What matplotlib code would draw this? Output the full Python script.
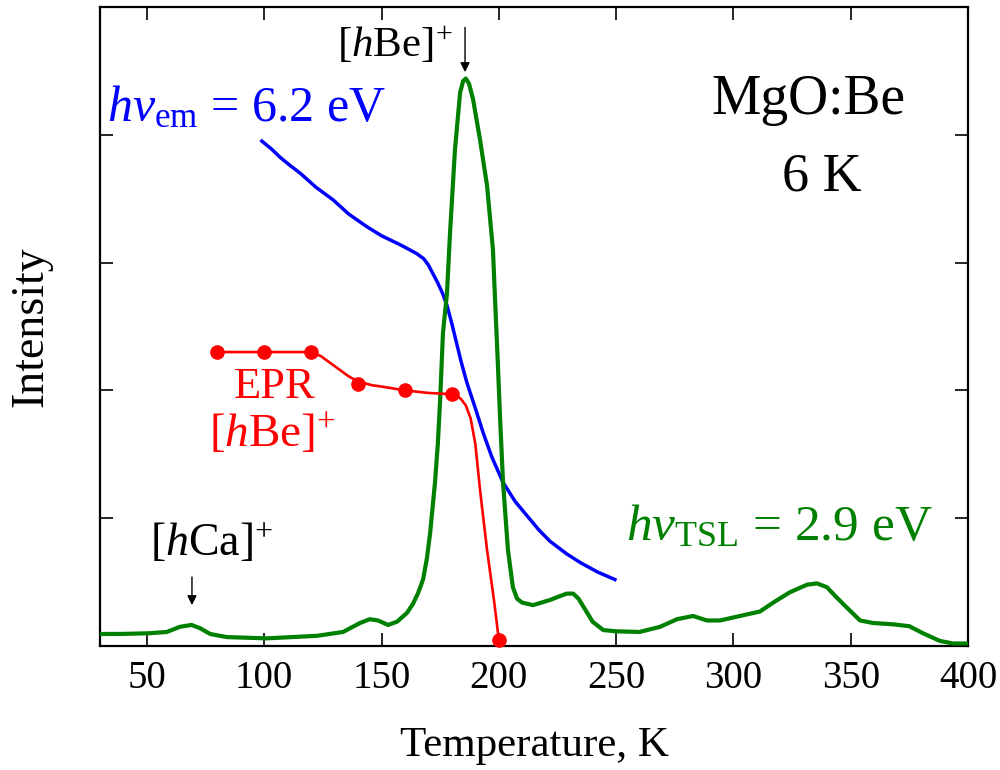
import matplotlib
matplotlib.use("Agg")
import matplotlib.pyplot as plt

plt.rcParams['font.family'] = ['Liberation Serif', 'DejaVu Serif']
plt.rcParams['mathtext.fontset'] = 'custom'
plt.rcParams['mathtext.rm'] = 'Liberation Serif'
plt.rcParams['mathtext.it'] = 'Liberation Serif:italic'
plt.rcParams['mathtext.bf'] = 'Liberation Serif:bold'

# ---- data ----
tsl_T = [30, 40, 51, 58.5, 64, 69, 72.6, 77, 84, 101, 122.5, 133.6, 140.8, 145, 148.5,
         152.8, 156.6, 160.9, 163.4, 165.5, 167.7, 169.3, 170.7, 172.8, 174, 175, 176.2,
         177.9, 179.2, 181.3, 183.5, 184.8, 185.9, 187.3, 189, 192, 195, 197.5, 198.4,
         199.5, 200.5, 201.8, 203.9, 206, 207.8, 209.9, 214.6, 221.8, 226, 229, 231.7,
         234, 236, 240, 244.5, 250, 260, 268.7, 276, 282.8, 288.7, 294.3, 302.8, 311.3,
         317, 324, 331.4, 335.6, 339.9, 344, 348.4, 354, 359.6, 368, 375, 380.8, 388,
         393.6, 400]
tsl_I = [0.094, 0.095, 0.10, 0.11, 0.15, 0.165, 0.14, 0.094, 0.07, 0.06, 0.08, 0.11, 0.18,
         0.21, 0.20, 0.165, 0.19, 0.26, 0.33, 0.41, 0.52, 0.68, 0.88, 1.28, 1.58, 1.93,
         2.45, 2.76, 3.23, 3.88, 4.33, 4.42, 4.44, 4.40, 4.28, 3.96, 3.60, 3.10, 2.71,
         2.25, 1.80, 1.28, 0.75, 0.46, 0.37, 0.34, 0.32, 0.36, 0.39, 0.41, 0.41, 0.37,
         0.31, 0.19, 0.125, 0.115, 0.11, 0.15, 0.21, 0.235, 0.20, 0.20, 0.235, 0.27,
         0.34, 0.42, 0.48, 0.49, 0.46, 0.38, 0.30, 0.20, 0.18, 0.17, 0.155, 0.10, 0.04,
         0.02, 0.02]

em_T = [99, 103, 107, 111, 115.3, 122, 129.4, 136, 143.8, 150, 157.9, 162, 165, 168, 170,
        172, 174, 176, 178, 180, 182, 184, 186.4, 190, 193.3, 197, 201.8, 207, 212, 217,
        221.8, 229, 235, 242, 249.5]
em_I = [3.95, 3.89, 3.82, 3.76, 3.70, 3.59, 3.49, 3.38, 3.28, 3.21, 3.14, 3.10, 3.07, 3.03,
        2.98, 2.91, 2.84, 2.76, 2.66, 2.52, 2.37, 2.22, 2.06, 1.86, 1.67, 1.48, 1.28, 1.13,
        1.02, 0.91, 0.82, 0.72, 0.65, 0.58, 0.52]

epr_T = [80, 100, 120, 140, 160, 180, 200]
epr_I = [2.30, 2.30, 2.30, 2.05, 2.00, 1.97, 0.05]

epr_line_T = [80, 100, 115, 118, 121, 124, 127, 130, 133, 136, 139, 142, 146, 150, 160,
              170, 180, 182, 184, 186, 188, 190, 192, 195, 198, 200]
epr_line_I = [2.30, 2.30, 2.30, 2.30, 2.29, 2.27, 2.23, 2.19, 2.15, 2.11, 2.08, 2.06, 2.04,
              2.03, 2.00, 1.98, 1.97, 1.96, 1.93, 1.88, 1.78, 1.58, 1.22, 0.75, 0.35,
              0.05]

x_ticks = [50, 100, 150, 200, 250, 300, 350, 400]
y_ticks = [1, 2, 3, 4]

GREEN = '#008000'
BLUE = '#0000FF'
RED = '#FF0000'

fig = plt.figure(figsize=(10, 7.7), dpi=100)
ax = fig.add_axes([0.100, 0.161, 0.868, 0.830])

ax.plot(tsl_T, tsl_I, color=GREEN, lw=3.0, solid_joinstyle='round', zorder=3)
ax.plot(em_T, em_I, color=BLUE, lw=2.5, solid_joinstyle='round', zorder=2)
ax.plot(epr_line_T, epr_line_I, color=RED, lw=1.9, solid_joinstyle='round', zorder=4)
ax.plot(epr_T, epr_I, 'o', color=RED, ms=9.5, zorder=5, clip_on=False)

ax.set_xlim(30, 400)
ax.set_ylim(0, 5)
ax.set_xticks(x_ticks)
ax.set_yticks(y_ticks)
ax.set_yticklabels([])
ax.tick_params(direction='in', length=9.5, width=1.2, top=True, right=True,
               labelsize=28, pad=10)
for s in ax.spines.values():
    s.set_linewidth(1.6)

ax.set_xlabel('Temperature, K', fontsize=31, labelpad=21)
ax.set_ylabel('Intensity', fontsize=33, labelpad=24)

ax.text(0.008, 0.822, r'$h\nu_{\mathrm{em}}$ = 6.2 eV', color=BLUE, fontsize=36,
        transform=ax.transAxes, ha='left', va='baseline')
ax.text(0.606, 0.165, r'$h\nu_{\mathrm{TSL}}$ = 2.9 eV', color=GREEN, fontsize=37,
        transform=ax.transAxes, ha='left', va='baseline')
ax.text(0.816, 0.832, 'MgO:Be', fontsize=40, transform=ax.transAxes, ha='center',
        va='baseline')
ax.text(0.832, 0.713, '6 K', fontsize=39, transform=ax.transAxes, ha='center',
        va='baseline')
ax.text(104.6, 1.94, 'EPR', color=RED, fontsize=32, ha='center', va='baseline')
ax.text(103.5, 1.56, r'[$h$Be]$^{+}$', color=RED, fontsize=34, ha='center',
        va='baseline')
ax.text(77.5, 0.71, r'[$h$Ca]$^{+}$', fontsize=33, ha='center', va='baseline')
ax.text(155.8, 4.61, r'[$h$Be]$^{+}$', fontsize=31, ha='center', va='baseline')

ax.annotate('', xy=(69.2, 0.32), xytext=(69.2, 0.54),
            arrowprops=dict(arrowstyle='-|>', color='black', lw=1.0,
                            mutation_scale=14, shrinkA=0, shrinkB=0))
ax.annotate('', xy=(185.6, 4.49), xytext=(185.6, 4.84),
            arrowprops=dict(arrowstyle='-|>', color='black', lw=1.0,
                            mutation_scale=14, shrinkA=0, shrinkB=0))

fig.savefig('out.png', dpi=100)
